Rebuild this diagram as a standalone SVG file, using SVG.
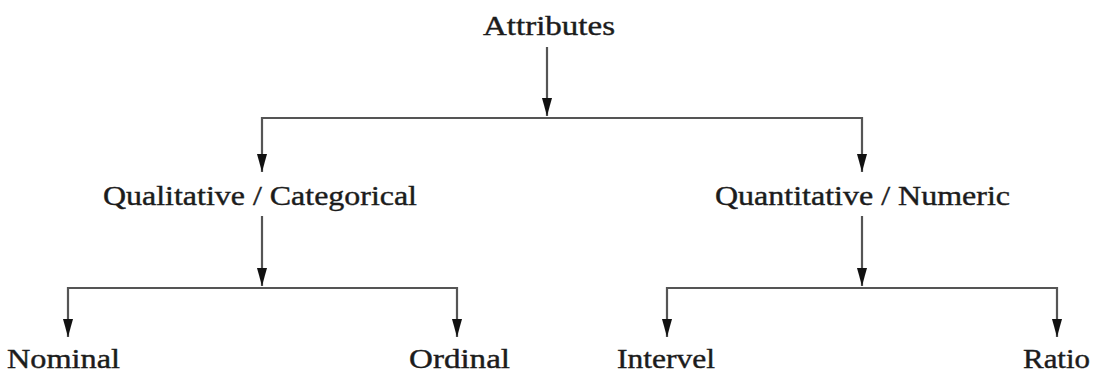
<svg xmlns="http://www.w3.org/2000/svg" width="1098" height="374" viewBox="0 0 1098 374">
<style>
.lbl{font-family:"Liberation Serif","Times New Roman",serif;font-size:27px;fill:#1c1c1c;stroke:#1c1c1c;stroke-width:0.4}
.ln{fill:none;stroke:#555;stroke-width:2.2}
.ah{fill:#111}
</style>
<rect width="1098" height="374" fill="#fff"/>
<g id="connectors">
<line class="ln" x1="547" y1="47" x2="547" y2="116"/>
<polygon class="ah" points="542,98 552,98 547,116"/>
<path class="ln" d="M262,172 L262,118 L862,118 L862,172"/>
<polygon class="ah" points="257,154 267,154 262,172"/>
<polygon class="ah" points="857,154 867,154 862,172"/>
<line class="ln" x1="262" y1="216" x2="262" y2="286"/>
<polygon class="ah" points="257,268 267,268 262,286"/>
<path class="ln" d="M68,337 L68,288 L457,288 L457,337"/>
<polygon class="ah" points="63,319 73,319 68,337"/>
<polygon class="ah" points="452,319 462,319 457,337"/>
<line class="ln" x1="862" y1="216" x2="862" y2="286"/>
<polygon class="ah" points="857,268 867,268 862,286"/>
<path class="ln" d="M667,337 L667,288 L1057,288 L1057,337"/>
<polygon class="ah" points="662,319 672,319 667,337"/>
<polygon class="ah" points="1052,319 1062,319 1057,337"/>
</g>
<g id="attributes"><text class="lbl" x="483" y="35" textLength="132" lengthAdjust="spacingAndGlyphs">Attributes</text></g>
<g id="qualitative"><text class="lbl" x="103" y="205" textLength="314" lengthAdjust="spacingAndGlyphs">Qualitative / Categorical</text></g>
<g id="quantitative"><text class="lbl" x="715" y="205" textLength="295" lengthAdjust="spacingAndGlyphs">Quantitative / Numeric</text></g>
<g id="nominal"><text class="lbl" x="7" y="368" textLength="113" lengthAdjust="spacingAndGlyphs">Nominal</text></g>
<g id="ordinal"><text class="lbl" x="409" y="368" textLength="101" lengthAdjust="spacingAndGlyphs">Ordinal</text></g>
<g id="intervel"><text class="lbl" x="617" y="368" textLength="98" lengthAdjust="spacingAndGlyphs">Intervel</text></g>
<g id="ratio"><text class="lbl" x="1023" y="368" textLength="67" lengthAdjust="spacingAndGlyphs">Ratio</text></g>
</svg>
